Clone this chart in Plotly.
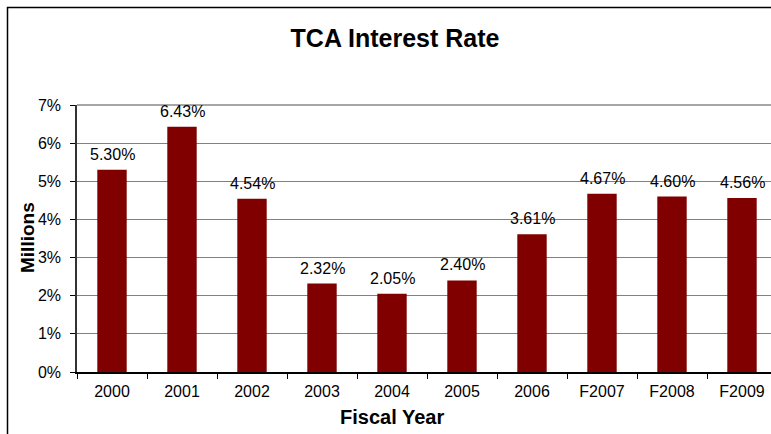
import plotly.graph_objects as go

categories = ["2000", "2001", "2002", "2003", "2004", "2005", "2006", "F2007", "F2008", "F2009"]
rates = [0.0530, 0.0643, 0.0454, 0.0232, 0.0205, 0.0240, 0.0361, 0.0467, 0.0460, 0.0456]
labels = ["5.30%", "6.43%", "4.54%", "2.32%", "2.05%", "2.40%", "3.61%", "4.67%", "4.60%", "4.56%"]

W, H = 771, 434
L, T, B, R = 77, 105, 62, 0
PW, PH = W - L - R, H - T - B
FONT = "Arial, Liberation Sans, sans-serif"


def px_x(x):
    return (x - L) / PW


def px_y(y):
    return (H - B - y) / PH


fig = go.Figure()
fig.add_trace(go.Bar(
    x=categories, y=rates, width=0.42,
    marker=dict(color="#800000", line=dict(width=0)),
    hoverinfo="skip",
))

for i, (v, t) in enumerate(zip(rates, labels)):
    fig.add_annotation(x=i, y=v, text=t, showarrow=False, yanchor="bottom",
                       yshift=5, font=dict(family=FONT, size=16, color="#000000"))

fig.add_annotation(x=px_x(392), y=px_y(417), xref="paper", yref="paper",
                   text="<b>Fiscal Year</b>", showarrow=False,
                   xanchor="center", yanchor="middle",
                   font=dict(family=FONT, size=20, color="#000000"))
fig.add_annotation(x=px_x(27), y=px_y(238), xref="paper", yref="paper",
                   text="<b>Millions</b>", showarrow=False, textangle=-90,
                   xanchor="center", yanchor="middle",
                   font=dict(family=FONT, size=19, color="#000000"))

# outer chart frame: left and top edges (rest cropped by the picture)
x_left, y_top, y_bot, x_right = px_x(7.5), px_y(7.5), px_y(H), 1
fig.add_shape(type="path", xref="paper", yref="paper",
              path=f"M {x_left} {y_bot} L {x_left} {y_top} L {x_right} {y_top}",
              line=dict(color="#000000", width=1.5), layer="above")
# top border of plot area
fig.add_shape(type="line", xref="paper", yref="paper", x0=0, x1=1, y0=1, y1=1,
              line=dict(color="#a6a6a6", width=2))

fig.update_layout(
    width=W, height=H,
    margin=dict(l=L, r=R, t=T, b=B, pad=0),
    paper_bgcolor="#ffffff", plot_bgcolor="#ffffff",
    showlegend=False,
    title=dict(text="<b>TCA Interest Rate</b>", x=395 / W, xref="container",
               xanchor="center", y=1 - 38.5 / H, yref="container", yanchor="middle",
               font=dict(family=FONT, size=25, color="#000000")),
    font=dict(family=FONT, size=16, color="#000000"),
)
fig.update_xaxes(
    type="category", range=[-0.5, 9.5 - 6 / 70], tickson="boundaries",
    ticks="outside", ticklen=5, tickcolor="#000000", tickwidth=1,
    showline=True, linecolor="#000000", linewidth=1.5,
    showgrid=False, zeroline=False,
    tickfont=dict(family=FONT, size=16, color="#000000"),
    ticklabelstandoff=4,
)
fig.update_yaxes(
    range=[0, 0.07], dtick=0.01, tick0=0, tickformat=".0%",
    ticks="outside", ticklen=5, tickcolor="#000000", tickwidth=1,
    showline=True, linecolor="#333333", linewidth=1.5,
    showgrid=True, gridcolor="#808080", gridwidth=1,
    zeroline=False,
    tickfont=dict(family=FONT, size=16, color="#000000"),
    ticklabelstandoff=6,
)

fig.write_html("out.html", config={"displayModeBar": False},
               post_script="document.documentElement.style.overflow='hidden';"
                           "document.body.style.margin='0';document.body.style.overflow='hidden';")
